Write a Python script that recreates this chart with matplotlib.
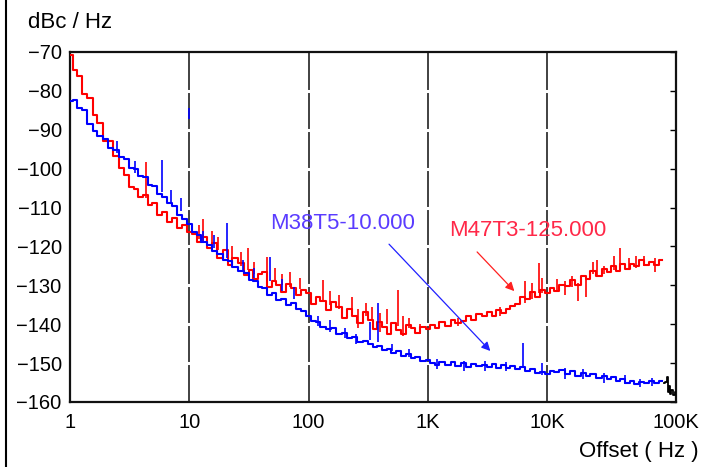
import matplotlib
matplotlib.use("Agg")
import matplotlib.pyplot as plt
from matplotlib.lines import Line2D

plt.rcParams['font.family'] = ['Liberation Sans', 'DejaVu Sans']

# frequency grid (E24 mantissas per decade), Hz
e24 = [1.0, 1.1, 1.2, 1.3, 1.5, 1.6, 1.8, 2.0, 2.2, 2.4, 2.7, 3.0,
       3.3, 3.6, 3.9, 4.3, 4.7, 5.1, 5.6, 6.2, 6.8, 7.5, 8.2, 9.1]
freq = [m * 10 ** d for d in range(5) for m in e24]

# M47T3-125.000 (red), dBc/Hz
red_db = [
    -70.8, -74.6, -76.2, -80.9, -81.8, -86.1, -88.2, -92.9, -93.0, -96.8, -99.9, -101.7,
    -104.6, -105.2, -107.3, -106.9, -109.4, -108.8, -111.9, -111.2, -113.6, -112.8, -115.3, -114.6,
    -116.4, -116.9, -118.8, -117.6, -120.5, -119.1, -122.9, -121.0, -124.8, -123.0, -124.2, -127.4,
    -126.1, -128.3, -127.0, -126.6, -130.3, -128.8, -129.9, -131.6, -129.7, -130.8, -132.4, -131.2,
    -132.0, -134.9, -133.1, -133.9, -136.4, -134.2, -135.6, -138.5, -136.0, -137.9, -139.8, -136.8,
    -138.9, -141.2, -139.4, -140.7, -142.6, -139.8, -141.5, -142.4, -140.3, -141.0, -142.2, -140.6,
    -141.3, -140.2, -141.1, -139.4, -140.5, -138.9, -139.7, -139.1, -137.9, -138.8, -137.3, -137.8,
    -136.9, -137.9, -136.4, -137.1, -136.0, -135.4, -134.9, -133.0, -133.4, -131.7, -132.9, -131.1,
    -131.9, -130.7, -131.5, -129.8, -130.2, -128.6, -129.9, -127.6, -128.4, -126.4, -127.7, -125.8,
    -126.7, -125.1, -126.3, -124.4, -125.9, -124.6, -125.1, -123.6, -124.9, -123.9, -124.8, -123.4,
]

# M38T5-10.000 (blue), dBc/Hz
blue_db = [
    -82.6, -82.4, -84.3, -84.8, -88.6, -90.2, -91.6, -92.3, -94.6, -95.2, -96.9, -97.5,
    -99.8, -100.1, -101.9, -102.2, -104.3, -104.5, -106.6, -107.2, -108.9, -109.6, -111.9, -113.0,
    -114.3, -116.2, -117.1, -118.9, -119.6, -121.2, -122.0, -123.6, -123.8, -125.2, -126.4, -126.8,
    -128.6, -128.9, -130.4, -130.7, -132.4, -132.0, -133.8, -133.4, -135.1, -134.6, -136.0, -136.5,
    -137.8, -139.1, -139.5, -140.6, -141.2, -141.0, -142.4, -142.2, -143.5, -143.2, -144.6, -144.3,
    -145.2, -145.9, -145.6, -146.7, -146.4, -147.4, -147.0, -148.1, -147.6, -148.7, -148.3, -149.4,
    -149.1, -150.0, -150.5, -149.8, -150.6, -149.7, -150.7, -150.1, -150.9, -150.2, -150.8, -150.4,
    -151.1, -150.3, -151.2, -150.6, -151.3, -150.7, -151.4, -151.0, -151.9, -151.5, -152.6, -152.2,
    -152.8, -151.9, -152.4, -151.7, -152.8, -152.1, -153.2, -152.6, -153.4, -152.8, -153.8, -153.2,
    -154.0, -153.6, -154.5, -154.1, -155.0, -154.6, -155.3, -154.9, -155.1, -154.6, -155.0, -154.5,
]

# spurs and noise spikes: frequency, one end, other end
red_spur_f = [4.3, 13.1, 31, 45, 132, 560, 8500, 24000, 41000, 21000,
              12, 15.5, 17.5, 23, 27, 35, 52, 60, 70, 85, 150, 180, 230, 260,
              300, 340, 400, 450, 620, 700, 850, 1800, 4000, 6500, 7500, 9000,
              12000, 14000, 16000, 18000, 26000, 30000, 36000, 48000, 55000, 65000, 80000]
red_spur_lo = [-107.5, -118.5, -126.0, -128.5, -134.0, -140.5, -132.0, -127.0, -125.2, -128.0,
               -118.0, -120.0, -121.0, -123.5, -125.0, -127.0, -129.0, -130.0, -130.5, -131.0,
               -135.0, -136.0, -137.0, -141.0, -138.0, -139.0, -142.0, -140.0, -143.0, -141.0,
               -142.5, -140.5, -138.0, -134.5, -133.5, -132.0, -131.5, -132.5, -130.5, -134.0,
               -127.5, -127.0, -126.0, -126.0, -125.5, -125.0, -126.5]
red_spur_hi = [-98.2, -113.0, -120.5, -122.6, -128.6, -131.2, -124.3, -124.0, -120.5, -133.0,
               -114.5, -116.0, -117.5, -120.0, -121.5, -124.0, -125.5, -127.0, -126.5, -128.0,
               -131.5, -132.5, -133.0, -136.0, -134.5, -135.5, -137.0, -136.0, -138.0, -138.5,
               -140.0, -138.5, -135.5, -129.0, -129.5, -128.0, -128.5, -129.0, -127.5, -129.5,
               -123.5, -125.0, -122.5, -123.0, -122.5, -122.5, -123.0]

blue_spur_f = [5.9, 10, 20.6, 47.5, 330, 385, 6300,
               2.5, 3.5, 7, 8.5, 13, 16, 28, 35, 60, 75, 120, 150, 200, 250,
               500, 700, 1200, 2000, 3000, 4500, 9000, 14000, 20000, 30000, 45000, 60000, 75000]
blue_spur_lo = [-106.0, -87.2, -123.0, -129.0, -144.0, -144.5, -151.0,
                -96.0, -101.0, -108.5, -111.0, -118.5, -120.5, -126.0, -128.0, -131.5, -133.5,
                -140.5, -142.0, -143.5, -145.0, -147.0, -148.5, -151.5, -152.0, -152.0, -152.0,
                -153.0, -154.0, -154.0, -155.0, -155.5, -156.2, -156.0]
blue_spur_hi = [-97.8, -84.3, -114.0, -122.6, -139.3, -134.6, -144.9,
                -93.0, -98.0, -105.5, -107.5, -116.0, -117.0, -123.5, -125.5, -128.5, -130.5,
                -138.0, -139.0, -141.0, -142.5, -145.0, -146.5, -149.0, -149.5, -149.5, -149.8,
                -150.0, -151.2, -151.5, -152.5, -153.0, -154.0, -153.8]

# black end of the trace
tail_f = [95000, 100000, 102000, 104000, 106000, 108000, 112000, 116000, 119000]
tail_db = [-155.0, -154.8, -153.6, -157.5, -156.0, -157.9, -157.0, -158.2, -157.5]

y_ticks = [-70, -80, -90, -100, -110, -120, -130, -140, -150, -160]
x_ticks = [1, 10, 100, 1000, 10000, 120000]
x_labels = ['1', '10', '100', '1K', '10K', '100K']
grid_x = [10, 100, 1000, 10000]

fig = plt.figure(figsize=(7.04, 4.67), dpi=100)
ax = fig.add_axes([70 / 704, 65 / 467, 606 / 704, 350 / 467])

ax.set_xscale('log')
ax.set_xlim(1, 120000)
ax.set_ylim(-160, -70)

for gx in grid_x:
    ax.axvline(gx, color='#333333', lw=1.3, zorder=1)
# small breaks in the vertical lines at each 10 dB level
for yt in y_ticks[1:-1]:
    ax.axhline(yt, color='white', lw=2.2, zorder=1.5)

ax.plot(freq, red_db, color='#ff0000', lw=1.5, drawstyle='steps-mid', zorder=3)
ax.vlines(red_spur_f, red_spur_lo, red_spur_hi, color='#ff0000', lw=1.2, zorder=3)
ax.plot(freq, blue_db, color='#0000ff', lw=1.5, drawstyle='steps-mid', zorder=4)
ax.vlines(blue_spur_f, blue_spur_lo, blue_spur_hi, color='#0000ff', lw=1.2, zorder=4)
ax.plot(tail_f, tail_db, color='black', lw=1.3, drawstyle='steps-mid', zorder=5)

ax.set_yticks(y_ticks)
ax.set_yticklabels([str(v).replace('-', '\u2212') for v in y_ticks], fontsize=14.5)
ax.set_xticks(x_ticks)
ax.set_xticklabels(x_labels, fontsize=14.5)
ax.xaxis.set_minor_locator(matplotlib.ticker.NullLocator())
ax.tick_params(axis='x', length=0, pad=8)
ax.tick_params(axis='y', left=False, right=True, direction='in', length=4, width=1, pad=6)

for s in ax.spines.values():
    s.set_linewidth(1.6)
    s.set_color('#111111')

# annotations
ax.text(47.5, -114, 'M38T5-10.000', color='#5a3cff', fontsize=16, ha='left', va='center')
ax.annotate('', xy=(3460, -147.4), xytext=(455, -118.9),
            arrowprops=dict(arrowstyle='-|>', color='#2020ff', lw=0.9, mutation_scale=13))
ax.text(1510, -115.8, 'M47T3-125.000', color='#ff2848', fontsize=16, ha='left', va='center')
ax.annotate('', xy=(5500, -132.0), xytext=(2490, -120.9),
            arrowprops=dict(arrowstyle='-|>', color='#ff2020', lw=0.9, mutation_scale=13))

fig.text(28 / 704, 1 - 23 / 467, 'dBc / Hz', fontsize=16, ha='left', va='center')
fig.text(699 / 704, 1 - 452 / 467, 'Offset ( Hz )', fontsize=16, ha='right', va='center')
fig.add_artist(Line2D([6 / 704, 6 / 704], [0, 1], color='black', lw=1.5,
                      transform=fig.transFigure))

fig.savefig('out.png', dpi=100)
